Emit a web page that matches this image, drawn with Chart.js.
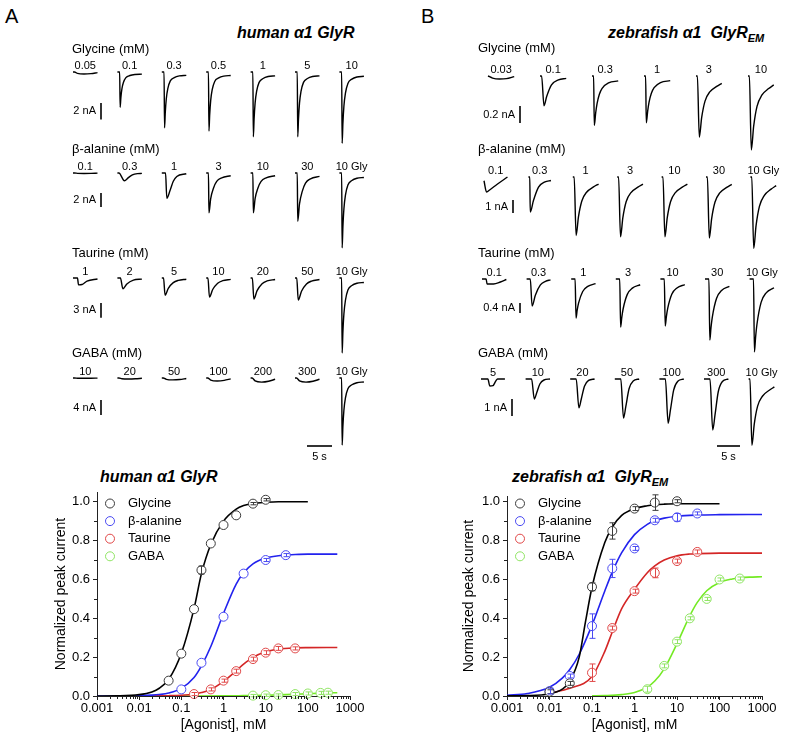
<!DOCTYPE html>
<html><head><meta charset="utf-8">
<script src="https://cdn.jsdelivr.net/npm/chart.js@4.4.1/dist/chart.umd.min.js"></script>
<style>
html,body{margin:0;padding:0;background:#fff;}
body{width:789px;height:738px;position:relative;overflow:hidden;font-family:"Liberation Sans",Arial,sans-serif;color:#000;}
canvas{position:absolute;}
.lbl{position:absolute;white-space:nowrap;line-height:1;}
.ttl{font-weight:bold;font-style:italic;font-size:16px;}
.ttl sub{font-size:11px;vertical-align:baseline;position:relative;top:4px;}
.letter{font-size:20px;}
</style></head><body>
<div class="lbl letter" style="left:5px;top:6px">A</div>
<div class="lbl letter" style="left:421px;top:6px">B</div>
<div class="lbl ttl" style="left:237px;top:25px">human α1 GlyR</div>
<div class="lbl ttl" style="left:608px;top:25px">zebrafish α1&nbsp; GlyR<sub>EM</sub></div>
<div class="lbl ttl" style="left:100px;top:469px">human α1 GlyR</div>
<div class="lbl ttl" style="left:512px;top:469px">zebrafish α1&nbsp; GlyR<sub>EM</sub></div>
<script>
// ===================== DATA =====================
// Dose-response axes
const X_TICK_VALUES = [0.001, 0.01, 0.1, 1, 10, 100, 1000];
const X_TICK_LABELS = ['0.001', '0.01', '0.1', '1', '10', '100', '1000'];
const Y_TICK_VALUES = [0, 0.2, 0.4, 0.6, 0.8, 1.0];
const Y_TICK_LABELS = ['0.0', '0.2', '0.4', '0.6', '0.8', '1.0'];
const SERIES_NAMES = ['Glycine', 'β-alanine', 'Taurine', 'GABA'];

// human α1 GlyR – measured points (mM, normalized current, error)
const hGlyX = [0.05, 0.1, 0.2, 0.3, 0.5, 1, 2, 5, 10];
const hGlyY = [0.079, 0.218, 0.447, 0.648, 0.785, 0.88, 0.93, 0.99, 1.01];
const hGlyE = [0, 0, 0, 0.02, 0, 0, 0, 0.006, 0.006];
const hBalX = [0.1, 0.3, 1, 3, 10, 30];
const hBalY = [0.034, 0.171, 0.408, 0.63, 0.70, 0.725];
const hBalE = [0, 0, 0, 0, 0.008, 0.008];
const hTauX = [0.2, 0.5, 1, 2, 5, 10, 20, 50];
const hTauY = [0.01, 0.034, 0.079, 0.128, 0.19, 0.223, 0.245, 0.245];
const hTauE = [0.008, 0.008, 0.008, 0.01, 0.01, 0.01, 0.01, 0.008];
const hGabX = [5, 10, 20, 50, 100, 200, 300];
const hGabY = [0.002, 0.004, 0.005, 0.01, 0.013, 0.016, 0.017];
const hGabE = [0.006, 0.006, 0.006, 0.008, 0.008, 0.008, 0.008];
// human α1 GlyR – fitted curves
const hGlyFitX = [0.001, 0.003, 0.01, 0.02, 0.03, 0.05, 0.1, 0.2, 0.3, 0.5, 1, 2, 3, 5, 10, 20, 50, 100];
const hGlyFitY = [0.0002, 0.001, 0.007, 0.021, 0.04, 0.085, 0.22, 0.45, 0.63, 0.78, 0.9, 0.962, 0.98, 0.991, 0.997, 1.0, 1.0, 1.0];
const hBalFitX = [0.001, 0.003, 0.01, 0.02, 0.03, 0.05, 0.1, 0.2, 0.3, 0.5, 1, 2, 3, 5, 10, 20, 30, 50, 100, 500];
const hBalFitY = [0.0001, 0.0003, 0.0016, 0.0043, 0.0075, 0.015, 0.039, 0.095, 0.155, 0.255, 0.425, 0.576, 0.634, 0.68, 0.71, 0.722, 0.725, 0.728, 0.73, 0.73];
const hTauFitX = [0.01, 0.03, 0.05, 0.1, 0.2, 0.3, 0.5, 1, 2, 3, 5, 10, 20, 50, 100, 500];
const hTauFitY = [0.0002, 0.0008, 0.0015, 0.004, 0.0103, 0.0176, 0.0335, 0.075, 0.13, 0.164, 0.199, 0.228, 0.241, 0.2475, 0.249, 0.25];
const hGabFitX = [0.1, 1, 3, 10, 30, 100, 200, 500];
const hGabFitY = [0, 0.0005, 0.002, 0.004, 0.007, 0.012, 0.015, 0.017];

// zebrafish α1 GlyR_EM – measured points
const zGlyX = [0.01, 0.03, 0.1, 0.3, 1, 3, 10];
const zGlyY = [0.022, 0.065, 0.562, 0.85, 0.965, 0.996, 1.003];
const zGlyE = [0.01, 0.01, 0.02, 0.042, 0.01, 0.04, 0.008];
const zBalX = [0.01, 0.03, 0.1, 0.3, 1, 3, 10, 30];
const zBalY = [0.025, 0.103, 0.36, 0.657, 0.76, 0.905, 0.92, 0.94];
const zBalE = [0.015, 0.01, 0.063, 0.047, 0.01, 0.01, 0.02, 0.008];
const zTauX = [0.1, 0.3, 1, 3, 10, 30];
const zTauY = [0.12, 0.35, 0.54, 0.634, 0.695, 0.742];
const zTauE = [0.045, 0.01, 0.01, 0.025, 0.01, 0.01];
const zGabX = [2, 5, 10, 20, 50, 100, 300];
const zGabY = [0.035, 0.155, 0.28, 0.40, 0.50, 0.60, 0.605];
const zGabE = [0.015, 0.01, 0.01, 0.008, 0.008, 0.008, 0.008];
// zebrafish – fitted curves
const zGlyFitX = [0.001, 0.003, 0.01, 0.02, 0.03, 0.05, 0.07, 0.1, 0.2, 0.3, 0.5, 1, 2, 3, 5, 10, 30, 100];
const zGlyFitY = [0.0005, 0.002, 0.012, 0.035, 0.075, 0.2, 0.38, 0.56, 0.79, 0.87, 0.93, 0.965, 0.98, 0.985, 0.988, 0.99, 0.99, 0.99];
const zBalFitX = [0.001, 0.003, 0.01, 0.02, 0.03, 0.05, 0.1, 0.2, 0.3, 0.5, 1, 2, 3, 5, 10, 30, 100, 1000];
const zBalFitY = [0.004, 0.0125, 0.045, 0.092, 0.136, 0.215, 0.365, 0.541, 0.638, 0.738, 0.831, 0.884, 0.902, 0.916, 0.926, 0.932, 0.934, 0.935];
const zTauFitX = [0.01, 0.03, 0.1, 0.2, 0.3, 0.5, 1, 2, 3, 5, 10, 20, 30, 100, 1000];
const zTauFitY = [0.015, 0.04, 0.1, 0.23, 0.33, 0.45, 0.55, 0.635, 0.67, 0.70, 0.722, 0.731, 0.733, 0.736, 0.736];
const zGabFitX = [0.1, 0.2, 0.5, 1, 2, 3, 5, 10, 20, 30, 50, 100, 200, 300, 500, 1000];
const zGabFitY = [0.0008, 0.002, 0.007, 0.018, 0.046, 0.077, 0.14, 0.27, 0.413, 0.482, 0.542, 0.585, 0.603, 0.608, 0.612, 0.614];

// Current traces: concentration labels, peak amplitude (nA), waveform shape
const hGlyConc = ['0.05', '0.1', '0.3', '0.5', '1', '5', '10'];
const hGlyPeak = [0.25, 4.3, 6.8, 7.2, 7.9, 7.9, 8.7];
const hGlyWave = ['sag', 'fast', 'fast', 'fast', 'fast', 'fast', 'fast'];
const hBalConc = ['0.1', '0.3', '1', '3', '10', '30', '10 Gly'];
const hBalPeak = [0.07, 1.1, 3.6, 5.7, 5.7, 6.9, 10.7];
const hBalWave = ['sag', 'slowV', 'med', 'decay', 'decay', 'decay', 'fast'];
const hTauConc = ['1', '2', '5', '10', '20', '50', '10 Gly'];
const hTauPeak = [1.4, 2.2, 3.5, 3.9, 4.3, 4.5, 15.3];
const hTauWave = ['tauLow', 'tau2', 'tauMed', 'tauMed', 'tauMed', 'tauMed', 'fast'];
const hGabConc = ['10', '20', '50', '100', '200', '300', '10 Gly'];
const hGabPeak = [0.08, 0.27, 0.5, 0.8, 1.1, 1.1, 17.9];
const hGabWave = ['sag', 'sag', 'sag', 'sag', 'sag', 'sag', 'fast'];
const hBarNA = [2, 2, 3, 4];
const hBarLabels = ['2 nA', '2 nA', '3 nA', '4 nA'];

const zGlyConc = ['0.03', '0.1', '0.3', '1', '3', '10'];
const zGlyPeak = [0.035, 0.35, 0.58, 0.55, 0.72, 0.87];
const zGlyWave = ['zWobble', 'zPeakV', 'zFast', 'zFast', 'zSlow', 'zSlow'];
const zBalConc = ['0.1', '0.3', '1', '3', '10', '30', '10 Gly'];
const zBalPeak = [1.15, 2.7, 4.5, 4.6, 4.6, 4.7, 5.5];
const zBalWave = ['zV', 'zMed', 'zSlow', 'zSlow', 'zSlow', 'zSlow', 'zSlow'];
const zTauConc = ['0.1', '0.3', '1', '3', '10', '30', '10 Gly'];
const zTauPeak = [0.2, 1.08, 1.56, 1.92, 1.88, 2.44, 2.92];
const zTauWave = ['zLow', 'zTau03', 'zTau', 'zTau', 'zTau', 'zTau', 'zTau'];
const zGabConc = ['5', '10', '20', '50', '100', '300', '10 Gly'];
const zGabPeak = [0.41, 1.18, 1.7, 2.3, 2.6, 3.0, 3.9];
const zGabWave = ['zBox', 'zGabaV', 'zGabaV', 'zGabaV', 'zGabaV', 'zGabaV', 'zSlow'];
const zBarNA = [0.2, 1, 0.4, 1];
const zBarLabels = ['0.2 nA', '1 nA', '0.4 nA', '1 nA'];
const TIME_BAR_SEC = 5;
const TIME_BAR_LABEL = '5 s';

// Waveform shapes [time (s), fraction of peak]
const waveFast = [[0,0],[0.45,0],[0.55,1],[0.7,0.72],[0.9,0.48],[1.2,0.3],[1.7,0.16],[2.5,0.1],[3.5,0.07],[4.9,0.06]];
const waveSag = [[0,0],[0.3,0],[0.9,0.7],[2.2,1],[3.6,0.8],[4.9,0.3]];
const waveSlowV = [[0,0],[0.3,0],[1.4,1],[2.2,0.6],[3,0.25],[4,0.08],[4.9,0.05]];
const waveMed = [[0,0],[0.75,0],[1.0,1],[1.7,0.66],[2.3,0.33],[3,0.14],[4.9,0.03]];
const waveDecay = [[0,0],[0.45,0],[0.55,1],[0.9,0.64],[1.45,0.38],[2.1,0.21],[3.1,0.12],[4.9,0.07]];
const waveTauLow = [[0,0],[0.9,0],[1.1,1],[1.8,0.95],[2.8,0.45],[4.9,0.15]];
const waveTau2 = [[0,0],[0.6,0],[1.1,1],[1.9,0.55],[3.2,0.2],[4.9,0.1]];
const waveTauMed = [[0,0],[0.35,0],[0.65,1],[1.3,0.6],[2.3,0.27],[3.3,0.14],[4.9,0.07]];
const waveZWobble = [[0,0],[1,0.7],[2.5,1],[4,0.9],[5.7,0.2]];
const waveZPeakV = [[0,0],[0.35,0],[0.87,1],[1.45,0.69],[2.5,0.3],[4,0.13],[5.7,0.08]];
const waveZFast = [[0,0],[0.35,0],[0.5,1],[0.8,0.75],[1.1,0.56],[1.6,0.37],[2.2,0.25],[3.6,0.14],[5.7,0.1]];
const waveZSlow = [[0,0],[0.3,0],[0.72,1],[1.23,0.68],[1.96,0.41],[3,0.26],[4.5,0.17],[5.6,0.12]];
const waveZV = [[0,0.25],[0.55,1],[1.3,0.85],[2.8,0.5],[5.1,0]];
const waveZMed = [[0,0],[0.3,0],[0.4,1],[1.1,0.67],[2.2,0.29],[3.6,0.14],[4.9,0.1]];
const waveZLow = [[0,0],[0.9,0],[1.1,1],[2.5,1],[4,0.6],[5.3,0.1]];
const waveZTau03 = [[0,0],[0.8,0],[1.2,1],[1.9,0.6],[3,0.22],[4.1,0.09],[5.2,0.03]];
const waveZTau = [[0,0],[0.85,0],[1.05,1],[1.3,0.8],[1.6,0.62],[2.5,0.32],[3.6,0.19],[5.3,0.12]];
const waveZBox = [[0,0],[1.5,0],[1.9,1],[2.6,0.95],[3.2,0.3],[3.6,0],[5.2,0]];
const waveZGabaV = [[0,0],[1.3,0],[1.9,1],[2.4,0.7],[3.1,0.25],[4,0.05],[5.3,0]];

// ===================== RENDERING =====================
const WAVES = {fast: waveFast, sag: waveSag, slowV: waveSlowV, med: waveMed, decay: waveDecay,
  tauLow: waveTauLow, tau2: waveTau2, tauMed: waveTauMed, zWobble: waveZWobble, zPeakV: waveZPeakV,
  zFast: waveZFast, zSlow: waveZSlow, zV: waveZV, zMed: waveZMed, zLow: waveZLow, zTau03: waveZTau03,
  zTau: waveZTau, zBox: waveZBox, zGabaV: waveZGabaV};
const FONT = '"Liberation Sans", Arial, sans-serif';
Chart.defaults.font.family = FONT;
Chart.defaults.color = '#000';
const POINT_COLORS = ['#3a3a3a', '#4a4af2', '#e04848', '#8fe463'];
const LINE_COLORS = ['#000000', '#2222ee', '#d42626', '#74ea24'];

function makeCanvas(left, top, w, h) {
  const c = document.createElement('canvas');
  c.width = w; c.height = h;
  c.style.left = left + 'px'; c.style.top = top + 'px';
  c.style.width = w + 'px'; c.style.height = h + 'px';
  document.body.appendChild(c);
  return c;
}

function traceRow(panel, row, extra) {
  const top = row.labelY - 10, height = 125;
  const cv = makeCanvas(panel.left, top, panel.width, height);
  const xmax = panel.xmin + panel.width / panel.pxPerSec;
  const off = row.base - top;
  const ymax = off / row.k, ymin = -(height - off) / row.k;
  const colT = i => panel.xmin + (row.col0 + i * row.colPx - panel.left) / panel.pxPerSec;
  const datasets = row.peaks.map((p, i) => {
    const w = WAVES[row.waves[i]];
    return {
      data: w.map(([t, f]) => ({x: colT(i) + t, y: -p * f})),
      borderColor: '#000', borderWidth: 1.4, pointRadius: 0, fill: false,
      cubicInterpolationMode: 'monotone', clip: false
    };
  });
  const decor = {
    id: 'rowDecor',
    afterDraw(chart) {
      const ctx = chart.ctx, xs = chart.scales.x, ys = chart.scales.y;
      ctx.save();
      ctx.fillStyle = '#000'; ctx.strokeStyle = '#000';
      ctx.font = '13px ' + FONT; ctx.textAlign = 'left'; ctx.textBaseline = 'middle';
      ctx.fillText(row.label, panel.labelX - panel.left, row.labelY - top);
      ctx.font = '11px ' + FONT; ctx.textAlign = 'center'; ctx.textBaseline = 'alphabetic';
      const y0 = ys.getPixelForValue(0);
      row.conc.forEach((c, i) => {
        const w = WAVES[row.waves[i]];
        const tm = colT(i) + w[w.length - 1][0] / 2;
        ctx.fillText(c, xs.getPixelForValue(tm), y0 - 3);
      });
      const barLen = ys.getPixelForValue(0) - ys.getPixelForValue(row.barNA);
      const bx = row.barX - panel.left, by = row.barTop - top;
      ctx.lineWidth = 1.6;
      ctx.beginPath(); ctx.moveTo(bx, by); ctx.lineTo(bx, by + barLen); ctx.stroke();
      ctx.textAlign = 'right'; ctx.textBaseline = 'middle';
      ctx.fillText(row.barLabel, bx - 5, by + barLen / 2);
      if (extra) {
        const t0 = xs.getValueForPixel(extra.x - panel.left);
        const x0 = xs.getPixelForValue(t0), x1 = xs.getPixelForValue(t0 + TIME_BAR_SEC);
        const ty = extra.y - top;
        ctx.beginPath(); ctx.moveTo(x0, ty); ctx.lineTo(x1, ty); ctx.stroke();
        ctx.textAlign = 'center'; ctx.textBaseline = 'middle';
        ctx.fillText(TIME_BAR_LABEL, (x0 + x1) / 2, extra.ly - top);
      }
      ctx.restore();
    }
  };
  new Chart(cv, {
    type: 'line',
    data: {datasets},
    options: {
      responsive: false, animation: false, devicePixelRatio: 1, events: [],
      layout: {padding: 0, autoPadding: false},
      plugins: {legend: {display: false}, tooltip: {enabled: false}},
      scales: {
        x: {type: 'linear', display: false, min: panel.xmin, max: xmax},
        y: {type: 'linear', display: false, min: ymin, max: ymax}
      }
    },
    plugins: [decor]
  });
}

const panelA = {left: 0, width: 395, xmin: -14.6, pxPerSec: 5, labelX: 72};
const panelB = {left: 395, width: 394, xmin: -20.2, pxPerSec: 4.6, labelX: 478};
const rowsA = [
  {label: 'Glycine (mM)', conc: hGlyConc, peaks: hGlyPeak, waves: hGlyWave, barNA: hBarNA[0], barLabel: hBarLabels[0], labelY: 49, base: 72, k: 8.2, barX: 101, barTop: 103, col0: 73, colPx: 44.4},
  {label: 'β-alanine (mM)', conc: hBalConc, peaks: hBalPeak, waves: hBalWave, barNA: hBarNA[1], barLabel: hBarLabels[1], labelY: 149, base: 173, k: 7.0, barX: 101, barTop: 193, col0: 73, colPx: 44.4},
  {label: 'Taurine (mM)', conc: hTauConc, peaks: hTauPeak, waves: hTauWave, barNA: hBarNA[2], barLabel: hBarLabels[2], labelY: 253, base: 278, k: 4.9, barX: 101, barTop: 303, col0: 73, colPx: 44.4},
  {label: 'GABA (mM)', conc: hGabConc, peaks: hGabPeak, waves: hGabWave, barNA: hBarNA[3], barLabel: hBarLabels[3], labelY: 353, base: 378, k: 3.75, barX: 101, barTop: 400, col0: 73, colPx: 44.4}
];
const rowsB = [
  {label: 'Glycine (mM)', conc: zGlyConc, peaks: zGlyPeak, waves: zGlyWave, barNA: zBarNA[0], barLabel: zBarLabels[0], labelY: 48, base: 76, k: 85, barX: 520, barTop: 106, col0: 488, colPx: 52},
  {label: 'β-alanine (mM)', conc: zBalConc, peaks: zBalPeak, waves: zBalWave, barNA: zBarNA[1], barLabel: zBarLabels[1], labelY: 149, base: 177, k: 13, barX: 513, barTop: 200, col0: 484, colPx: 44.4},
  {label: 'Taurine (mM)', conc: zTauConc, peaks: zTauPeak, waves: zTauWave, barNA: zBarNA[2], barLabel: zBarLabels[2], labelY: 253, base: 279, k: 25, barX: 520, barTop: 303, col0: 482, colPx: 44.6},
  {label: 'GABA (mM)', conc: zGabConc, peaks: zGabPeak, waves: zGabWave, barNA: zBarNA[3], barLabel: zBarLabels[3], labelY: 353, base: 379, k: 17, barX: 512, barTop: 399, col0: 481, colPx: 44.6}
];
rowsA.forEach((r, i) => traceRow(panelA, r, i === 3 ? {x: 307, y: 446, ly: 457} : null));
rowsB.forEach((r, i) => traceRow(panelB, r, i === 3 ? {x: 717, y: 446, ly: 457} : null));

// ---------- dose-response charts ----------
function doseChart(cfg) {
  const cv = makeCanvas(cfg.left, cfg.top, cfg.width, cfg.height);
  const datasets = [];
  cfg.points.forEach((s, i) => {
    datasets.push({
      type: 'scatter', label: SERIES_NAMES[i],
      data: s[0].map((x, j) => ({x, y: s[1][j]})), errs: s[2],
      borderColor: POINT_COLORS[i], backgroundColor: '#fff',
      pointRadius: 4.5, pointBorderWidth: 1, pointStyle: 'circle', showLine: false, order: 0, clip: false
    });
  });
  cfg.fits.forEach((f, i) => {
    datasets.push({
      type: 'line', data: f[0].map((x, j) => ({x, y: f[1][j]})),
      borderColor: LINE_COLORS[i], borderWidth: 1.6, pointRadius: 0, fill: false,
      cubicInterpolationMode: 'monotone', order: 1
    });
  });
  const decor = {
    id: 'doseDecor',
    afterDatasetsDraw(chart) {
      const ctx = chart.ctx, ys = chart.scales.y;
      ctx.save();
      chart.data.datasets.forEach((ds, i) => {
        if (!ds.errs) return;
        const meta = chart.getDatasetMeta(i);
        ctx.strokeStyle = ds.borderColor; ctx.lineWidth = 1;
        meta.data.forEach((pt, j) => {
          const e = ds.errs[j]; if (!e) return;
          const v = ds.data[j].y;
          const yt = ys.getPixelForValue(v + e), yb = ys.getPixelForValue(v - e);
          const x = Math.round(pt.x) + 0.5;
          ctx.beginPath();
          ctx.moveTo(x, yt); ctx.lineTo(x, yb);
          ctx.moveTo(x - 3, yt); ctx.lineTo(x + 3, yt);
          ctx.moveTo(x - 3, yb); ctx.lineTo(x + 3, yb);
          ctx.stroke();
        });
      });
      ctx.restore();
    },
    afterDraw(chart) {
      const ctx = chart.ctx, xs = chart.scales.x, ys = chart.scales.y, ca = chart.chartArea;
      ctx.save();
      ctx.strokeStyle = '#222'; ctx.lineWidth = 1;
      ctx.beginPath();
      for (let e = -3; e < 3; e++) {
        for (let m = 2; m < 10; m++) {
          const px = Math.round(xs.getPixelForValue(m * Math.pow(10, e))) + 0.5;
          ctx.moveTo(px, ca.bottom); ctx.lineTo(px, ca.bottom + 3);
        }
      }
      [0.1, 0.3, 0.5, 0.7, 0.9].forEach(v => {
        const py = Math.round(ys.getPixelForValue(v)) + 0.5;
        ctx.moveTo(ca.left - 3, py); ctx.lineTo(ca.left, py);
      });
      ctx.stroke();
      // legend
      ctx.font = '13px ' + FONT; ctx.textAlign = 'left'; ctx.textBaseline = 'middle';
      SERIES_NAMES.forEach((name, i) => {
        const cy = cfg.legendY - cfg.top + i * 17.6;
        const cx = cfg.legendX - cfg.left;
        ctx.beginPath(); ctx.arc(cx, cy, 4.5, 0, Math.PI * 2);
        ctx.strokeStyle = POINT_COLORS[i]; ctx.stroke();
        ctx.fillStyle = '#000';
        ctx.fillText(name, cx + 18, cy);
      });
      ctx.restore();
    }
  };
  new Chart(cv, {
    type: 'scatter',
    data: {datasets},
    options: {
      responsive: false, animation: false, devicePixelRatio: 1, events: [],
      layout: {padding: cfg.padding},
      plugins: {legend: {display: false}, tooltip: {enabled: false}},
      scales: {
        x: {
          type: 'logarithmic', min: 0.001, max: 1000,
          afterBuildTicks: s => { s.ticks = X_TICK_VALUES.map(v => ({value: v})); },
          afterFit: s => { s.height = 42; },
          ticks: {callback: (v, i) => X_TICK_LABELS[i], font: {size: 13}, color: '#000', padding: 1, maxRotation: 0, autoSkip: false},
          grid: {display: true, drawOnChartArea: false, drawTicks: true, tickLength: 4, color: '#222', lineWidth: 1},
          border: {display: true, color: '#222', width: 1},
          title: {display: true, text: '[Agonist], mM', font: {size: 14}, color: '#000', padding: {top: 0, bottom: 4}}
        },
        y: {
          type: 'linear', min: 0, max: cfg.ymax,
          afterBuildTicks: s => { s.ticks = Y_TICK_VALUES.map(v => ({value: v})); },
          afterFit: s => { s.width = cfg.yAxisWidth; },
          ticks: {callback: (v, i) => Y_TICK_LABELS[i], font: {size: 13}, color: '#000', padding: 3},
          grid: {display: true, drawOnChartArea: false, drawTicks: true, tickLength: 4, color: '#222', lineWidth: 1},
          border: {display: true, color: '#222', width: 1},
          title: {display: true, text: 'Normalized peak current', font: {size: 14}, color: '#000', padding: {top: 4, bottom: 0}}
        }
      }
    },
    plugins: [decor]
  });
}

doseChart({
  left: 0, top: 462, width: 395, height: 276, ymax: 1.05, yAxisWidth: 48,
  padding: {left: 49, top: 30, right: 45, bottom: 0},
  legendX: 110, legendY: 503.5,
  points: [[hGlyX, hGlyY, hGlyE], [hBalX, hBalY, hBalE], [hTauX, hTauY, hTauE], [hGabX, hGabY, hGabE]],
  fits: [[hGlyFitX, hGlyFitY], [hBalFitX, hBalFitY], [hTauFitX, hTauFitY], [hGabFitX, hGabFitY]]
});
doseChart({
  left: 395, top: 462, width: 394, height: 276, ymax: 1.03, yAxisWidth: 50,
  padding: {left: 62, top: 34, right: 27, bottom: 0},
  legendX: 520, legendY: 503.5,
  points: [[zGlyX, zGlyY, zGlyE], [zBalX, zBalY, zBalE], [zTauX, zTauY, zTauE], [zGabX, zGabY, zGabE]],
  fits: [[zGlyFitX, zGlyFitY], [zBalFitX, zBalFitY], [zTauFitX, zTauFitY], [zGabFitX, zGabFitY]]
});
</script>
</body></html>
